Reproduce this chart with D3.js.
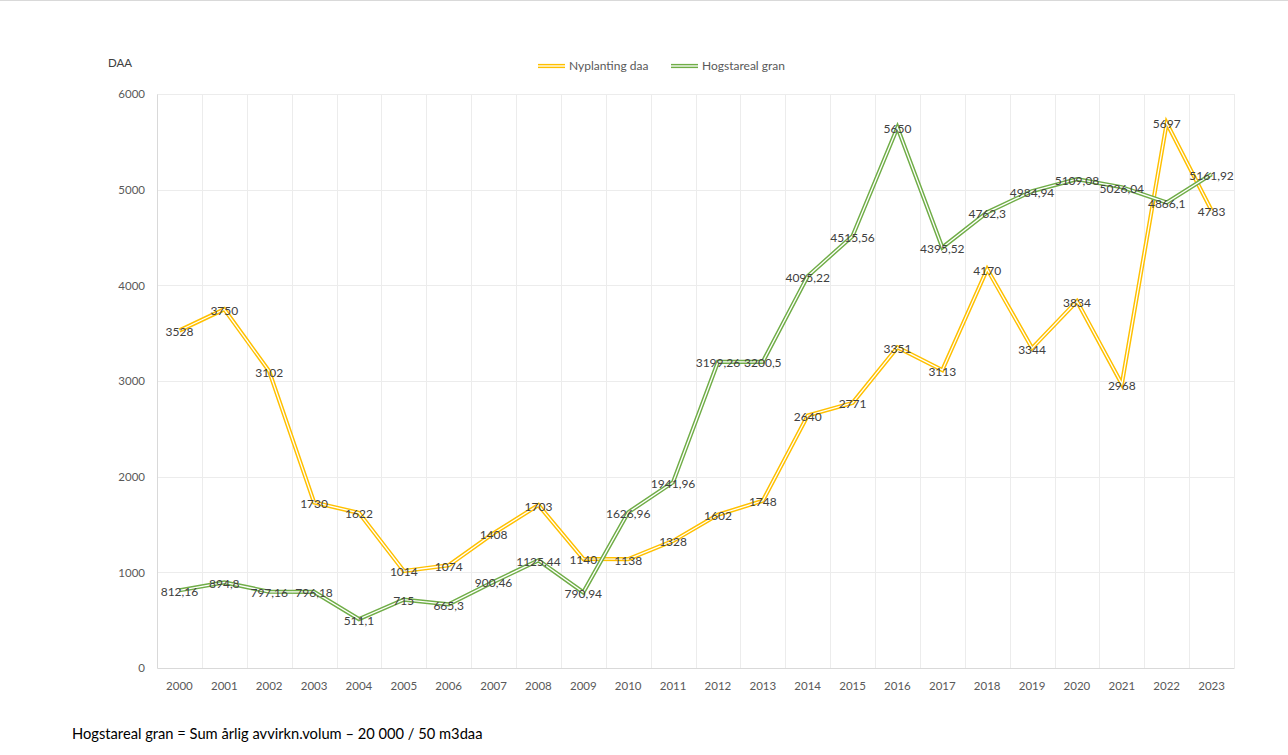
<!DOCTYPE html>
<html><head><meta charset="utf-8">
<script src="https://cdn.jsdelivr.net/npm/d3@7"></script>
<style>body{margin:0;background:#fff;}svg{display:block;}</style>
</head><body>
<svg id="c" width="1288" height="755"></svg>
<script>
const years = ["2000","2001","2002","2003","2004","2005","2006","2007","2008","2009","2010","2011","2012","2013","2014","2015","2016","2017","2018","2019","2020","2021","2022","2023"];
const nyplanting = [3528,3750,3102,1730,1622,1014,1074,1408,1703,1140,1138,1328,1602,1748,2640,2771,3351,3113,4170,3344,3834,2968,5697,4783];
const hogstareal = [812.16,894.8,797.16,796.18,511.1,715,665.3,900.46,1125.44,790.94,1626.96,1941.96,3199.26,3200.5,4095.22,4515.56,5650,4395.52,4762.3,4984.94,5109.08,5026.04,4866.1,5161.92];
const yTicks = [0,1000,2000,3000,4000,5000,6000];
const seriesNames = ["Nyplanting daa","Hogstareal gran"];
const seriesColors = ["#FFC000","#70AD47"];

const svg = d3.select("#c");
const L=157, R=1234, T=94, B=668;
const x = d3.scaleBand().domain(years).range([L,R]);
const y = d3.scaleLinear().domain([0,6000]).range([B,T]);
const font = "Lato, 'Open Sans', sans-serif";

svg.append("line").attr("x1",0).attr("x2",1288).attr("y1",0.5).attr("y2",0.5).attr("stroke","#d9d9d9");

// gridlines
const g = svg.append("g");
g.selectAll(".hg").data(yTicks.filter(d=>d>0)).enter().append("line")
  .attr("x1",L).attr("x2",R).attr("y1",d=>Math.round(y(d))+0.5).attr("y2",d=>Math.round(y(d))+0.5)
  .attr("stroke","#ececec");
g.selectAll(".vg").data(years.slice(1).concat(["end"])).enter().append("line")
  .attr("x1",(d,i)=>Math.round(L+x.bandwidth()*(i+1))+0.5).attr("x2",(d,i)=>Math.round(L+x.bandwidth()*(i+1))+0.5)
  .attr("y1",T).attr("y2",B).attr("stroke","#ececec");

// axes
const yAxis = d3.axisLeft(y).tickValues(yTicks).tickSize(0).tickPadding(12).tickFormat(d3.format("d"));
const ya = svg.append("g").attr("transform",`translate(${L},0)`).call(yAxis);
ya.select(".domain").attr("stroke","#d9d9d9");
ya.selectAll("text").attr("font-family",font).attr("font-size",11.5).attr("fill","#595959");
const xAxis = d3.axisBottom(x).tickSize(0).tickPadding(14);
const xa = svg.append("g").attr("transform",`translate(0,${B})`).call(xAxis);
xa.select(".domain").attr("stroke","#d9d9d9");
xa.selectAll("text").attr("font-family",font).attr("font-size",11.5).attr("fill","#595959");

svg.append("text").attr("x",108).attr("y",67).text("DAA").attr("font-family",font).attr("font-size",11.5).attr("fill","#404040");

// lines
const data = [nyplanting, hogstareal];
const line = d3.line().x((d,i)=>x(years[i])+x.bandwidth()/2).y(d=>y(d));
data.forEach((s,k)=>{
  svg.append("path").attr("d",line(s)).attr("fill","none").attr("stroke",seriesColors[k]).attr("stroke-width",4.2).attr("stroke-linejoin","miter");
  svg.append("path").attr("d",line(s)).attr("fill","none").attr("stroke","#fff").attr("stroke-width",1.3).attr("stroke-linejoin","miter");
});
// labels
const fmt = v => String(v).replace(".",",");
data.forEach((s,k)=>{
  svg.append("g").selectAll("text").data(s).enter().append("text")
    .attr("x",(d,i)=>x(years[i])+x.bandwidth()/2).attr("y",d=>y(d)+5.5)
    .attr("text-anchor","middle").attr("font-family",font).attr("font-size",12).attr("fill","#404040")
    .text(fmt);
});

// legend
const lg = svg.append("g");
const legItems = [{x:538},{x:671}];
seriesNames.forEach((n,k)=>{
  const lx = legItems[k].x;
  lg.append("line").attr("x1",lx).attr("x2",lx+27).attr("y1",66).attr("y2",66).attr("stroke",seriesColors[k]).attr("stroke-width",4.2);
  lg.append("line").attr("x1",lx).attr("x2",lx+27).attr("y1",66).attr("y2",66).attr("stroke","#fff").attr("stroke-width",1.3);
  lg.append("text").attr("x",lx+31).attr("y",70).text(n).attr("font-family",font).attr("font-size",12).attr("fill","#595959");
});

svg.append("text").attr("x",72).attr("y",739).text("Hogstareal gran = Sum årlig avvirkn.volum – 20 000 / 50 m3daa")
  .attr("font-family",font).attr("font-size",14.7).attr("fill","#000");
</script>
</body></html>
